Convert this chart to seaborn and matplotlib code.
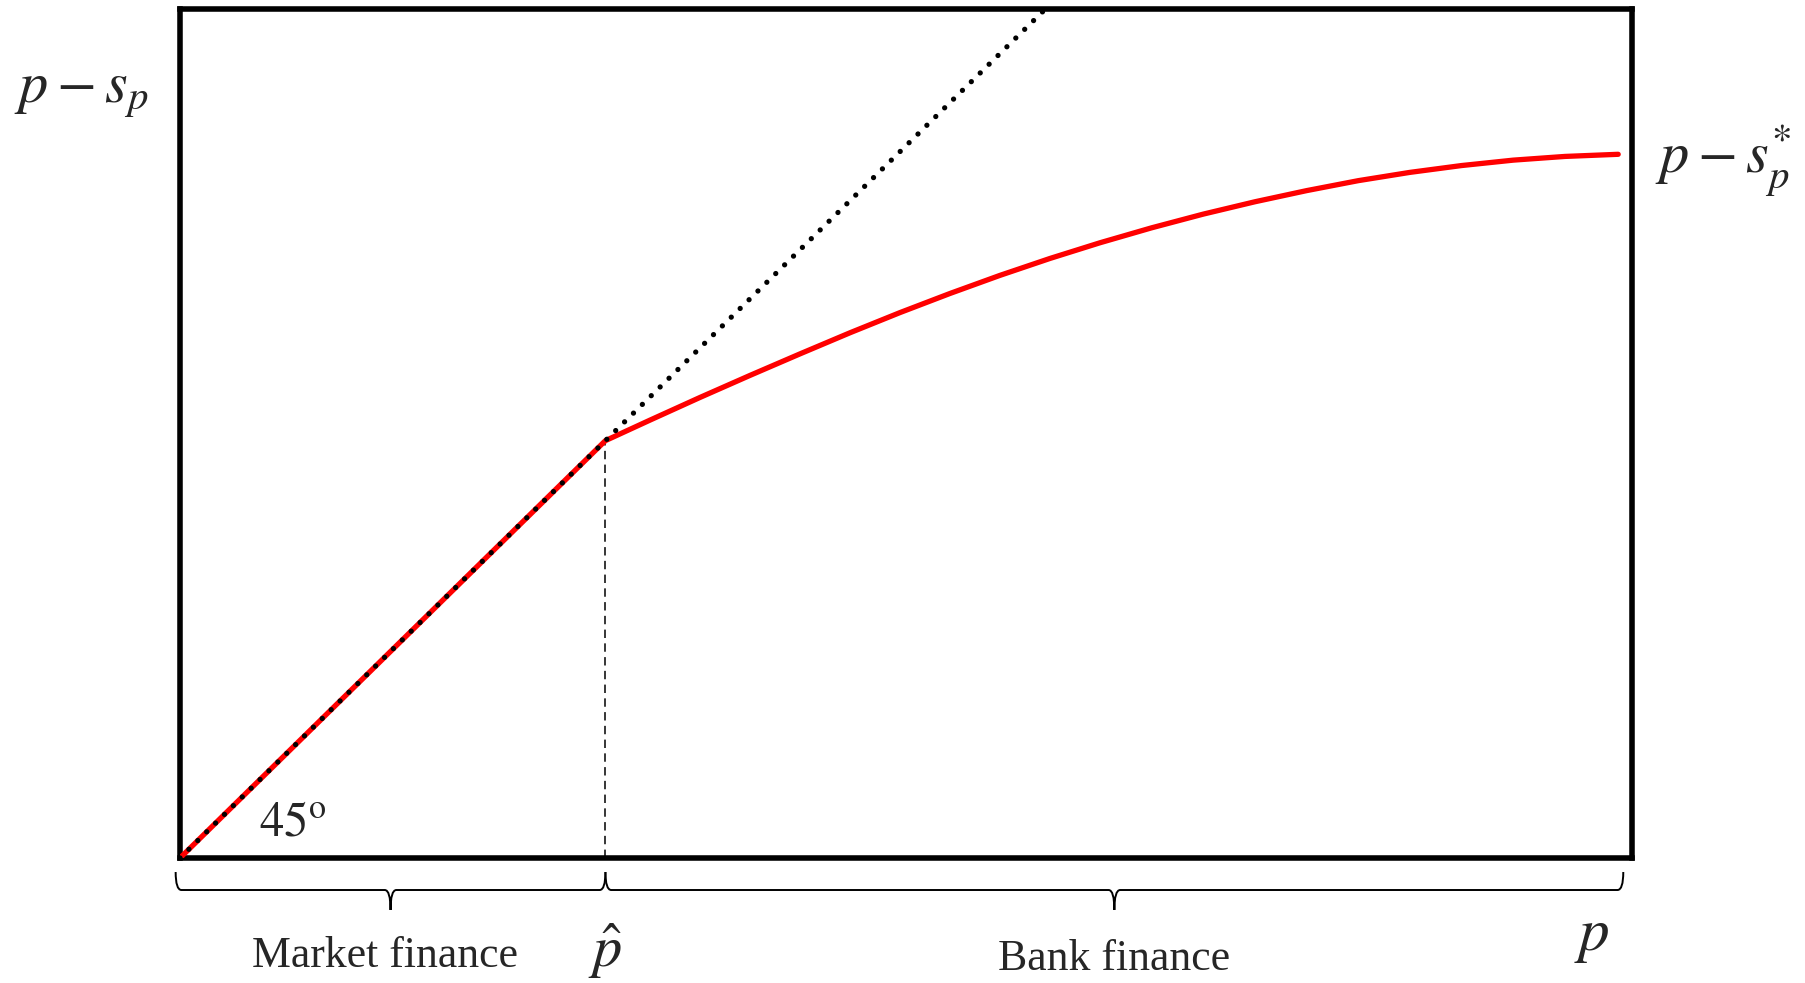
import matplotlib
matplotlib.use("Agg")
import numpy as np
import pandas as pd
import seaborn as sns
import matplotlib.pyplot as plt
from matplotlib.path import Path
from matplotlib.patches import PathPatch
from matplotlib.transforms import blended_transform_factory

# ---- data -------------------------------------------------------------
p_hat = 29.3          # threshold between market and bank finance
p_max = 100.0         # right end of the p axis
y_top = 59.6          # top of the vertical axis

# p - s_p : 45-degree segment up to p_hat, then the concave bank-finance branch
curve_p = [0.0, 29.3, 32.37, 35.81, 39.26, 42.70, 46.14, 49.59, 53.03, 56.47,
           59.92, 63.36, 66.92, 70.47, 74.04, 77.59, 81.15, 84.70, 88.26,
           91.82, 95.38, 99.05]
curve_v = [0.0, 29.3, 30.74, 32.33, 33.88, 35.39, 36.87, 38.29, 39.63, 40.90,
           42.09, 43.19, 44.24, 45.20, 46.07, 46.85, 47.55, 48.13, 48.61,
           48.99, 49.25, 49.40]

# 45-degree reference line
diag_p = [0.0, y_top]
diag_v = [0.0, y_top]

# ---- figure -----------------------------------------------------------
sns.set_style("white")
plt.rcParams["font.family"] = ["Liberation Serif", "DejaVu Serif"]
plt.rcParams["mathtext.fontset"] = "stix"

W, H = 1805, 983
fig = plt.figure(figsize=(W / 100, H / 100), dpi=100)
ax = fig.add_axes([180 / W, 1 - 858 / H, (1632 - 180) / W, (858 - 9) / H])

curve_df = pd.DataFrame({"p": curve_p, "v": curve_v})
diag_df = pd.DataFrame({"p": diag_p, "v": diag_v})

sns.lineplot(data=curve_df, x="p", y="v", ax=ax, color="#ff0000",
             lw=3.8, solid_capstyle="round", solid_joinstyle="round",
             zorder=3, sort=False)
sns.lineplot(data=diag_df, x="p", y="v", ax=ax, color="black",
             lw=3.8, linestyle=(0, (0.01, 2.35)), dash_capstyle="round",
             zorder=4, sort=False)

# dashed drop line at p_hat
ax.plot([p_hat, p_hat], [0, p_hat], color="black", lw=1.1,
        linestyle=(0, (5.5, 3.5)), zorder=2)

ax.set_xlim(0, p_max)
ax.set_ylim(0, y_top)
ax.set_xticks([])
ax.set_yticks([])
ax.set_xlabel("")
ax.set_ylabel("")
for s in ax.spines.values():
    s.set_visible(True)
    s.set_color("black")
    s.set_linewidth(4)

# ---- braces below the axis ---------------------------------------------
trans = blended_transform_factory(ax.transData, ax.transAxes)
b_base, b_end, b_tip, r = -0.0377, -0.0165, -0.0612, 0.4


def brace(x0, x1):
    mid = 0.5 * (x0 + x1)
    verts = [(x0, b_end), (x0, b_base), (x0 + r, b_base),
             (mid - r, b_base), (mid, b_base), (mid, b_tip),
             (mid, b_base), (mid + r, b_base),
             (x1 - r, b_base), (x1, b_base), (x1, b_end)]
    codes = [Path.MOVETO, Path.CURVE3, Path.CURVE3,
             Path.LINETO, Path.CURVE3, Path.CURVE3,
             Path.CURVE3, Path.CURVE3,
             Path.LINETO, Path.CURVE3, Path.CURVE3]
    ax.add_patch(PathPatch(Path(verts, codes), transform=trans, fill=False,
                           lw=1.4, edgecolor="black", clip_on=False))


brace(-0.3, p_hat)
brace(p_hat, 99.4)

# ---- labels -----------------------------------------------------------
def fpx(x, y):
    return x / W, 1 - y / H


fig.text(*fpx(14, 102), r"$p-s_{p}$", fontsize=42, ha="left", va="baseline")
fig.text(*fpx(1655, 172), r"$p-s_{p}^{*}$", fontsize=42, ha="left", va="baseline")
fig.text(*fpx(259, 835), r"$45^{\mathrm{o}}$", fontsize=35, ha="left", va="baseline")
fig.text(*fpx(385, 967), "Market finance", fontsize=31.5, ha="center", va="baseline")
fig.text(*fpx(1114, 970), "Bank finance", fontsize=31.5, ha="center", va="baseline")
fig.text(*fpx(605, 967), r"$\hat{p}$", fontsize=42, ha="center", va="baseline")
fig.text(*fpx(1592, 950), r"$p$", fontsize=44, ha="center", va="baseline")

fig.savefig("out.png", dpi=100, facecolor="white")
